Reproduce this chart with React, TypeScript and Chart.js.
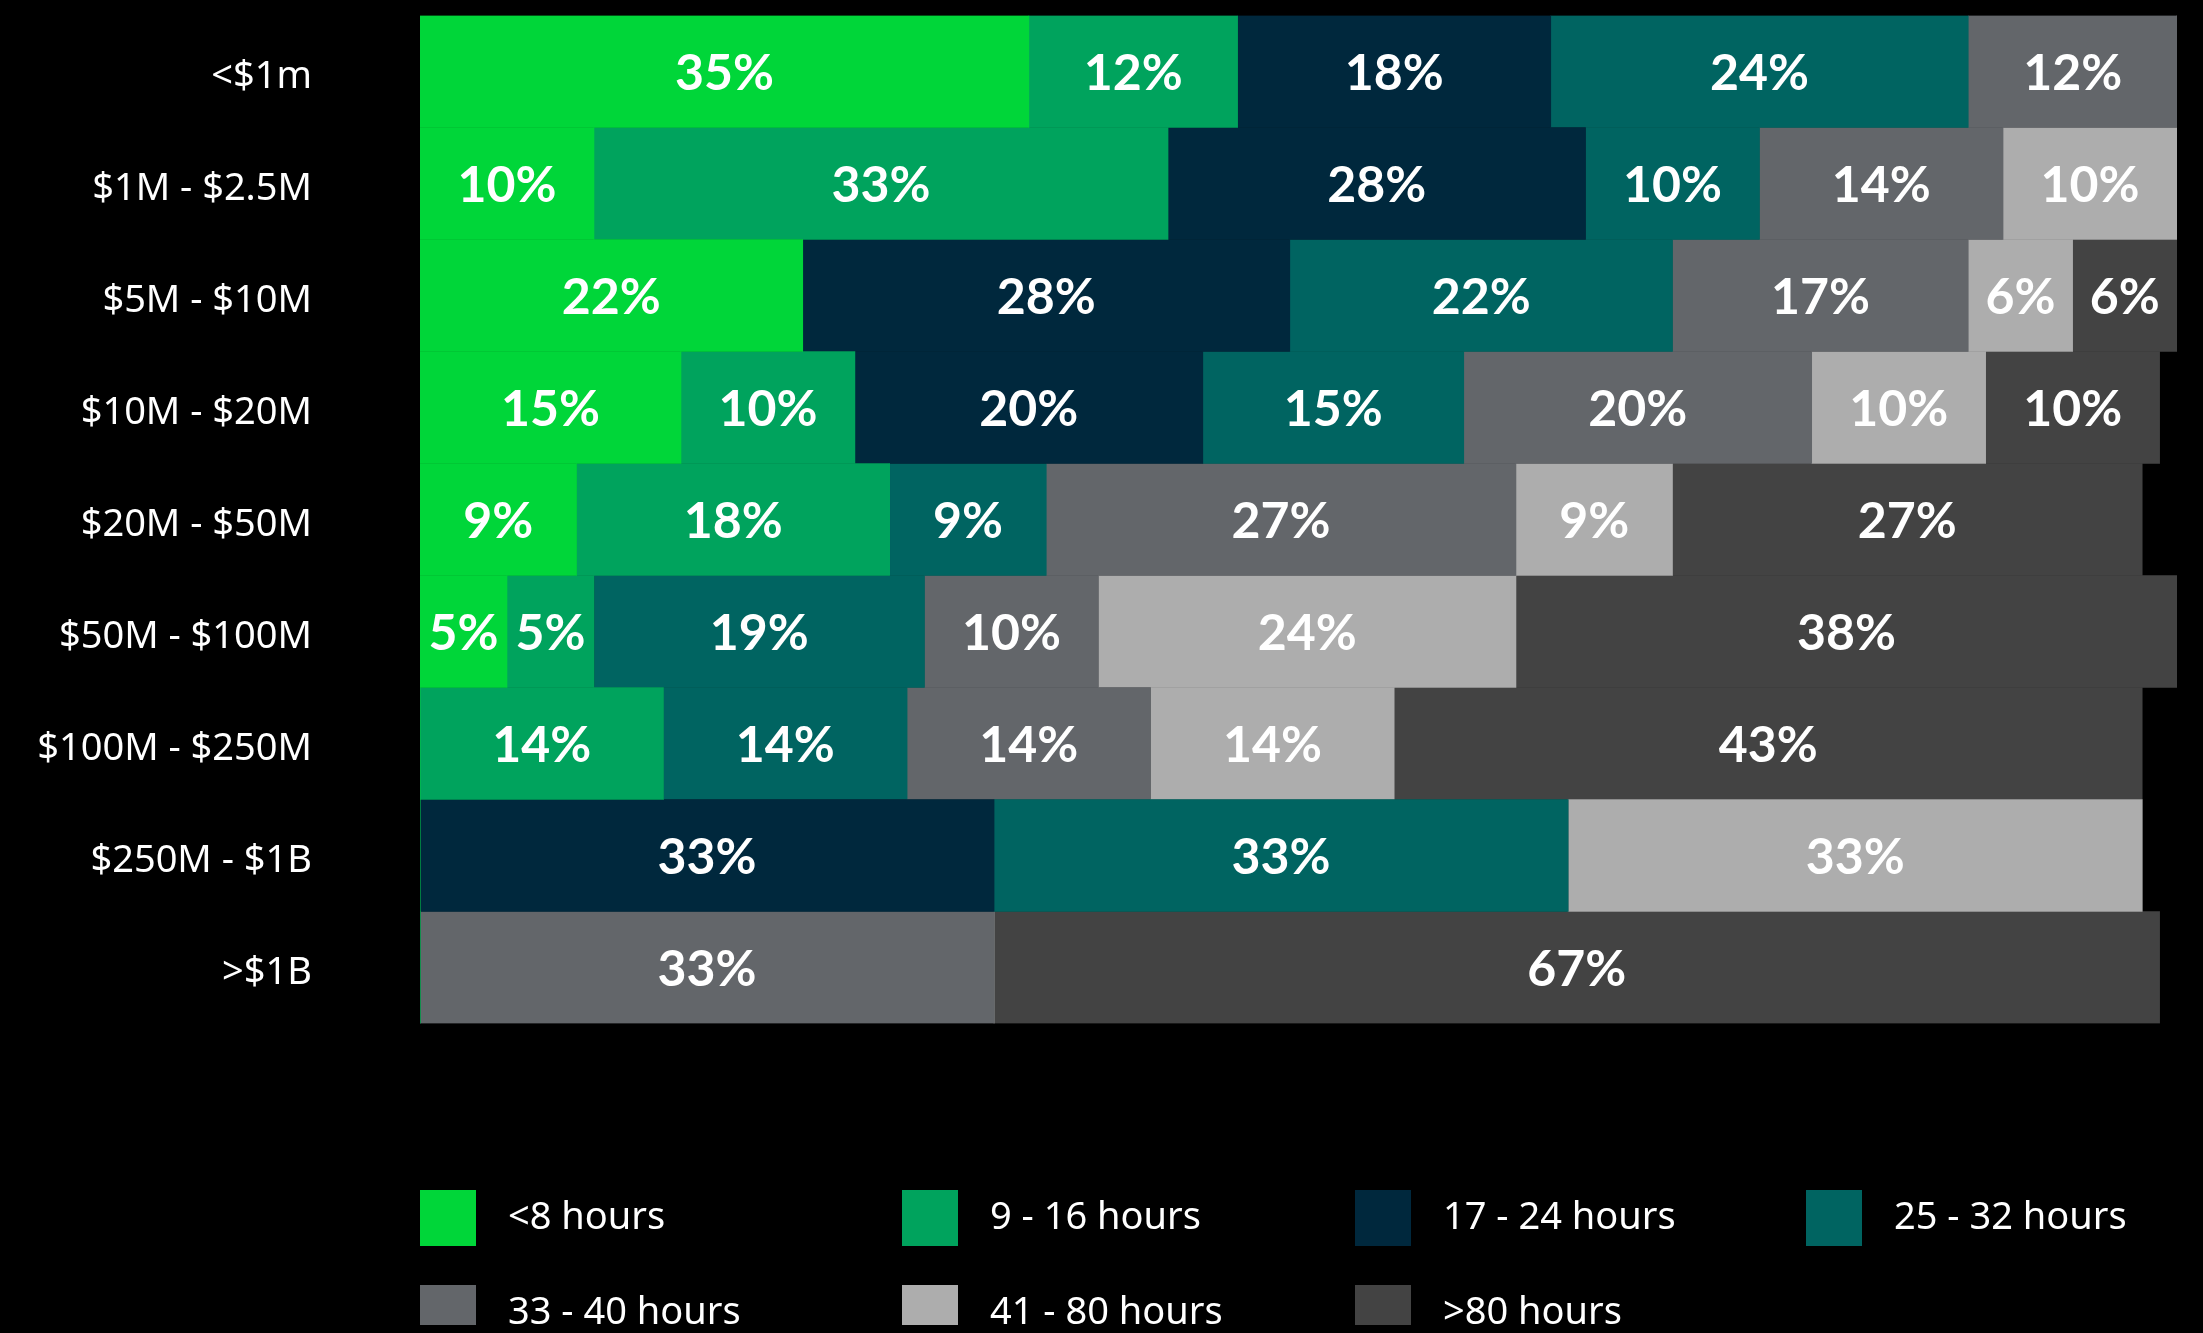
import React, { useEffect, useRef } from "react";
import { Chart, registerables } from "chart.js";

Chart.register(...registerables);

// ---- Data ----
const CATEGORIES = [
  "<$1m",
  "$1M - $2.5M",
  "$5M - $10M",
  "$10M - $20M",
  "$20M - $50M",
  "$50M - $100M",
  "$100M - $250M",
  "$250M - $1B",
  ">$1B",
];

const SERIES_NAMES = [
  "<8 hours",
  "9 - 16 hours",
  "17 - 24 hours",
  "25 - 32 hours",
  "33 - 40 hours",
  "41 - 80 hours",
  ">80 hours",
];

const SERIES_COLORS = [
  "#00D639",
  "#00A35D",
  "#00283D",
  "#006461",
  "#63666A",
  "#ADADAD",
  "#434343",
];

// Bar widths (percent), as drawn
const H_LT8 = [35, 10, 22, 15, 9, 5, 0, 0, 0];
const H_9_16 = [12, 33, 0, 10, 18, 5, 14, 0, 0];
const H_17_24 = [18, 24, 28, 20, 0, 0, 0, 33, 0];
const H_25_32 = [24, 10, 22, 15, 9, 19, 14, 33, 0];
const H_33_40 = [12, 14, 17, 20, 27, 10, 14, 0, 33];
const H_41_80 = [0, 10, 6, 10, 9, 24, 14, 33, 0];
const H_GT80 = [0, 0, 6, 10, 27, 38, 43, 0, 67];

// Percent labels as printed on the bars
const L_LT8 = [35, 10, 22, 15, 9, 5, 0, 0, 0];
const L_9_16 = [12, 33, 0, 10, 18, 5, 14, 0, 0];
const L_17_24 = [18, 28, 28, 20, 0, 0, 0, 33, 0];
const L_25_32 = [24, 10, 22, 15, 9, 19, 14, 33, 0];
const L_33_40 = [12, 14, 17, 20, 27, 10, 14, 0, 33];
const L_41_80 = [0, 10, 6, 10, 9, 24, 14, 33, 0];
const L_GT80 = [0, 0, 6, 10, 27, 38, 43, 0, 67];

const SERIES_VALUES = [H_LT8, H_9_16, H_17_24, H_25_32, H_33_40, H_41_80, H_GT80];
const SERIES_LABELS = [L_LT8, L_9_16, L_17_24, L_25_32, L_33_40, L_41_80, L_GT80];

const X_MAX = 101;

const W = 2187;
const H = 1317;

const bgPlugin = {
  id: "bgFill",
  beforeDraw(chart: any) {
    const ctx = chart.ctx;
    ctx.save();
    ctx.fillStyle = "#000";
    ctx.fillRect(0, 0, chart.width, chart.height);
    ctx.restore();
  },
};

const dataLabelPlugin = {
  id: "pctLabels",
  afterDatasetsDraw(chart: any) {
    const ctx = chart.ctx;
    ctx.save();
    ctx.fillStyle = "#ffffff";
    ctx.font = "bold 50px Lato";
    ctx.textAlign = "center";
    ctx.textBaseline = "middle";
    chart.data.datasets.forEach((ds: any, i: number) => {
      const meta = chart.getDatasetMeta(i);
      meta.data.forEach((el: any, j: number) => {
        const v = ds.data[j];
        if (!v) return;
        const p = el.getCenterPoint();
        ctx.fillText(SERIES_LABELS[i][j] + "%", p.x, p.y + 2);
      });
    });
    ctx.restore();
  },
};

const gridLegendPlugin = {
  id: "gridLegend",
  afterDraw(chart: any) {
    const ctx = chart.ctx;
    const cols = [412, 894, 1347, 1798];
    const rows = [1182, 1277];
    const box = 56;
    ctx.save();
    ctx.font = "38px 'Noto Sans'";
    ctx.textAlign = "left";
    ctx.textBaseline = "middle";
    SERIES_NAMES.forEach((name, i) => {
      const c = i % 4;
      const r = Math.floor(i / 4);
      const x = cols[c];
      const y = rows[r];
      ctx.fillStyle = SERIES_COLORS[i];
      ctx.fillRect(x, y, box, box);
      ctx.fillStyle = "#ffffff";
      ctx.fillText(name, x + 88, y + box / 2);
    });
    ctx.restore();
  },
};

export default function App() {
  const ref = useRef<HTMLCanvasElement | null>(null);

  useEffect(() => {
    document.body.style.background = "#000";
    const canvas = ref.current;
    if (!canvas) return;
    const chart = new Chart(canvas, {
      type: "bar",
      data: {
        labels: CATEGORIES,
        datasets: SERIES_NAMES.map((name, i) => ({
          label: name,
          data: SERIES_VALUES[i],
          backgroundColor: SERIES_COLORS[i],
          borderWidth: 0,
          barPercentage: 1,
          categoryPercentage: 1,
        })),
      },
      options: {
        indexAxis: "y",
        responsive: false,
        animation: false,
        devicePixelRatio: 1,
        layout: { padding: { top: 7.5, right: 18, bottom: 301.5, left: 0 } },
        plugins: {
          legend: { display: false },
          tooltip: { enabled: false },
          title: { display: false },
        },
        scales: {
          x: {
            stacked: true,
            min: 0,
            max: X_MAX,
            display: false,
          },
          y: {
            stacked: true,
            grid: { display: false, drawTicks: false },
            border: { display: false },
            ticks: {
              color: "#ffffff",
              font: { family: "'Noto Sans'", size: 38 },
              padding: 108,
              labelOffset: 6,
            },
            afterFit: (scale: any) => {
              scale.width = 412;
              scale.paddingTop = 0;
              scale.paddingBottom = 0;
            },
          },
        },
      } as any,
      plugins: [bgPlugin, dataLabelPlugin, gridLegendPlugin],
    });
    return () => chart.destroy();
  }, []);

  return (
    <div style={{ width: W, height: H, background: "#000" }}>
      <canvas ref={ref} width={W} height={H} style={{ display: "block" }} />
    </div>
  );
}
